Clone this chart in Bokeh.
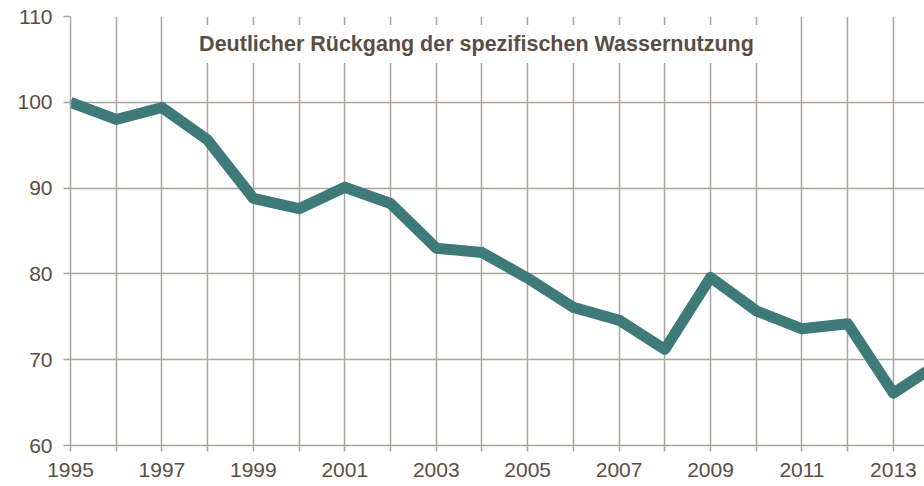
from bokeh.plotting import figure
from bokeh.models import Range1d, FixedTicker, Label
from bokeh.embed import file_html
from bokeh.resources import INLINE

# ---- data ----
years = list(range(1995, 2015))
values = [100.0, 98.0, 99.4, 95.6, 88.8, 87.6, 90.1, 88.2, 83.0, 82.5,
          79.5, 76.1, 74.6, 71.2, 79.6, 75.7, 73.6, 74.2, 66.1, 69.6]
y_ticks = [60, 70, 80, 90, 100, 110]
x_label_years = [1995, 1997, 1999, 2001, 2003, 2005, 2007, 2009, 2011, 2013]
title_text = "Deutlicher Rückgang der spezifischen Wassernutzung"

TEXT = "#5a4d42"
GRID = "#a9a49e"
LINE = "#3e7a78"
FONT = "Liberation Sans"

p = figure(width=924, height=486,
           x_range=Range1d(1995, 2013.68), y_range=Range1d(60, 110),
           output_backend="svg", toolbar_location=None,
           min_border_left=70, min_border_right=0,
           min_border_top=16, min_border_bottom=41)
p.outline_line_color = None
p.background_fill_color = "white"

# axes
p.xaxis.ticker = FixedTicker(ticks=years)
p.xaxis.major_label_overrides = {y: (str(y) if y in x_label_years else "") for y in years}
p.yaxis.ticker = FixedTicker(ticks=y_ticks)
for ax in (p.xaxis[0], p.yaxis[0]):
    ax.axis_line_color = GRID
    ax.axis_line_width = 1.5
    ax.major_tick_line_color = GRID
    ax.major_tick_line_width = 1.5
    ax.major_tick_in = 0
    ax.minor_tick_line_color = None
    ax.major_label_text_font = FONT
    ax.major_label_text_font_size = "21px"
    ax.major_label_text_color = TEXT
p.xaxis.major_tick_out = 6
p.xaxis.major_label_standoff = 11
p.yaxis.major_tick_out = 7
p.yaxis.major_label_standoff = 11

# grid
p.xgrid.ticker = FixedTicker(ticks=years)
p.ygrid.ticker = FixedTicker(ticks=y_ticks)
for g in (p.xgrid[0], p.ygrid[0]):
    g.grid_line_color = GRID
    g.grid_line_width = 1.5

# series
p.line(years, values, line_width=11, line_color=LINE, line_join="round")

# title box inside plot
p.add_layout(Label(x=2003.88, y=106.8, text=title_text,
                   text_align="center", text_baseline="middle",
                   text_font=FONT, text_font_style="bold",
                   text_font_size="21.5px", text_color=TEXT,
                   background_fill_color="white", padding=7))

open("out.html", "w").write(file_html(p, INLINE))
